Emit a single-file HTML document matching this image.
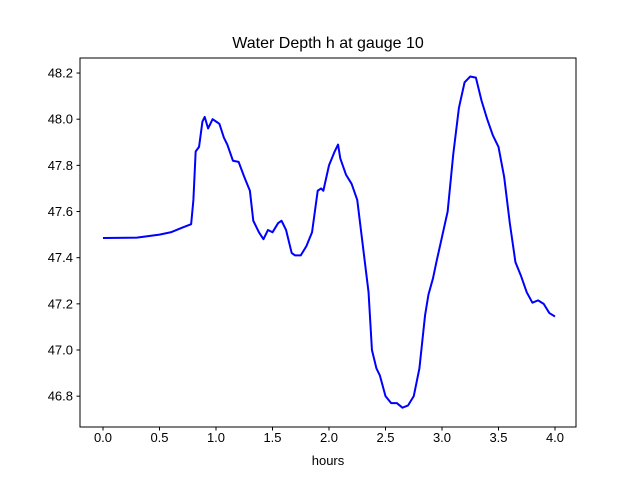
<!DOCTYPE html>
<html><head><meta charset="utf-8"><style>
body{margin:0;background:#fff}
svg{display:block;font-family:"Liberation Sans","DejaVu Sans",sans-serif}
</style></head><body>
<svg id="chart" width="640" height="480">
<rect width="640" height="480" fill="#fff"/>
<text x="328" y="48" font-size="16" text-anchor="middle">Water Depth h at gauge 10</text>
<g id="plot"></g>
<rect x="80" y="58" width="496" height="369" fill="none" stroke="#000" stroke-width="1"/>
<text x="328" y="465" font-size="13" text-anchor="middle">hours</text>
</svg>
<script>
const hours=[0,0.3,0.5,0.6,0.7,0.78,0.8,0.82,0.85,0.88,0.9,0.93,0.97,1.0,1.03,1.07,1.1,1.15,1.2,1.25,1.3,1.33,1.38,1.42,1.46,1.5,1.55,1.58,1.62,1.67,1.7,1.75,1.8,1.85,1.9,1.93,1.95,2.0,2.05,2.08,2.1,2.15,2.2,2.25,2.3,2.35,2.38,2.42,2.45,2.5,2.55,2.6,2.65,2.7,2.75,2.8,2.85,2.88,2.92,2.95,3.0,3.05,3.1,3.15,3.2,3.25,3.3,3.35,3.4,3.45,3.5,3.55,3.6,3.65,3.7,3.75,3.8,3.85,3.9,3.95,4.0];
const depth=[47.485,47.487,47.5,47.51,47.53,47.545,47.65,47.86,47.88,47.99,48.01,47.96,48.0,47.99,47.98,47.92,47.89,47.82,47.815,47.75,47.69,47.56,47.51,47.48,47.52,47.51,47.55,47.56,47.52,47.42,47.41,47.41,47.45,47.51,47.69,47.7,47.69,47.8,47.86,47.89,47.83,47.76,47.72,47.65,47.45,47.25,47.0,46.92,46.89,46.8,46.77,46.77,46.75,46.76,46.8,46.92,47.15,47.24,47.31,47.38,47.49,47.6,47.85,48.05,48.16,48.185,48.18,48.08,48.0,47.93,47.88,47.75,47.55,47.38,47.32,47.25,47.205,47.215,47.2,47.16,47.145];
const xTicks=[0,0.5,1,1.5,2,2.5,3,3.5,4];
const yTicks=[46.8,47.0,47.2,47.4,47.6,47.8,48.0,48.2];
const X=v=>103+v*113;
const Y=v=>350-(v-47.0)*230.8;
const NS="http://www.w3.org/2000/svg";
const g=document.getElementById('plot');
function mk(t,a){const e=document.createElementNS(NS,t);for(const k in a)e.setAttribute(k,a[k]);g.appendChild(e);return e;}
xTicks.forEach(t=>{
 const l=mk('line',{x1:X(t),x2:X(t),y1:427,y2:430.5,stroke:'#000'});
 
 
 const s=mk('text',{x:X(t),y:442,'font-size':13,'text-anchor':'middle'});
 s.textContent=t.toFixed(1);
 
 
});
yTicks.forEach(t=>{
 const l=mk('line',{x1:76.5,x2:80,y1:Y(t),y2:Y(t),stroke:'#000'});
 
 
 const s=mk('text',{x:73,y:Y(t)+4.5,'font-size':13,'text-anchor':'end'});
 s.textContent=t.toFixed(1);
 
 
});
const p=mk('polyline',{points:hours.map((h,i)=>X(h)+','+Y(depth[i])).join(' '),fill:'none',stroke:'#0000ff','stroke-width':2,'stroke-linejoin':'round'});


</script>
</body></html>
